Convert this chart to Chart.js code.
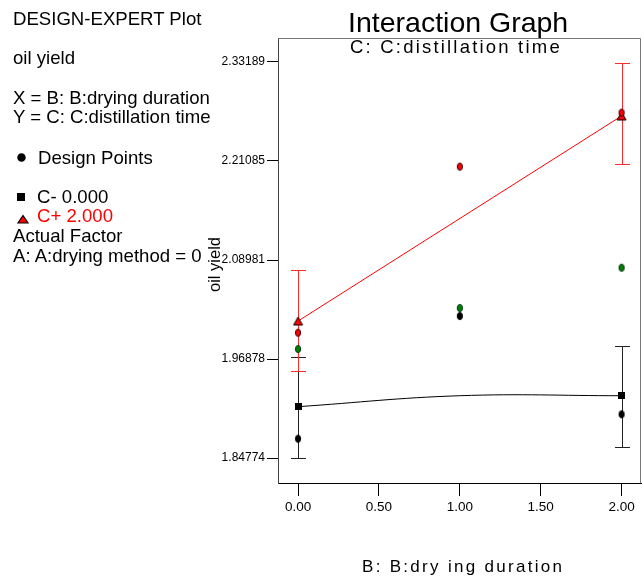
<!DOCTYPE html>
<html><head><meta charset="utf-8">
<script src="https://cdn.jsdelivr.net/npm/chart.js@4/dist/chart.umd.min.js"></script>
<style>
html,body{margin:0;padding:0;background:#fff;}
#wrap{position:relative;width:642px;height:579px;overflow:hidden;background:#fff;}
#c{position:absolute;left:0;top:0;}
.t{position:absolute;white-space:nowrap;font-family:"Liberation Sans",Arial,sans-serif;line-height:1;color:#000;}
</style></head><body>
<div id="wrap"><canvas id="c" width="642" height="579"></canvas></div>
<script>
// ---- data ----
const bLevels = [0, 1, 2];                       // B: drying duration
const designRed   = [2.0009, 2.2039, 2.2699];    // design points (red)
const designGreen = [1.9810, 2.0311, 2.0804];    // design points (green)
const designBlack = [1.8713, 2.0213, 1.9012];    // design points (black)
const fitCminus   = [1.9105, 1.9239, 1.9239];    // C- 0.000 fitted curve
const predEnds    = [0, 2];
const predCminus  = [1.9105, 1.9239];            // C- squares
const predCplus   = [2.0152, 2.2659];            // C+ triangles
const ciLowMinus  = [1.8480, 1.8616];
const ciHighMinus = [1.9716, 1.9850];
const ciLowPlus   = [1.9541, 2.2068];
const ciHighPlus  = [2.0776, 2.3303];
const xTickValues = [0, 0.5, 1, 1.5, 2];
const xTickLabels = ["0.00", "0.50", "1.00", "1.50", "2.00"];
const yTickValues = [1.84774, 1.96878, 2.08981, 2.21085, 2.33189];
const yTickLabels = ["1.84774", "1.96878", "2.08981", "2.21085", "2.33189"];

const FONT = '"Liberation Sans", Arial, sans-serif';

function ellipseImg(fill, stroke, rx, ry) {
  const c = document.createElement('canvas');
  c.width = Math.ceil(rx * 2 + 2); c.height = Math.ceil(ry * 2 + 2);
  const g = c.getContext('2d');
  g.beginPath(); g.ellipse(c.width / 2, c.height / 2, rx, ry, 0, 0, Math.PI * 2);
  g.fillStyle = fill; g.fill(); g.lineWidth = 1; g.strokeStyle = stroke; g.stroke();
  return c;
}
function squareImg(size) {
  const c = document.createElement('canvas'); c.width = size; c.height = size;
  const g = c.getContext('2d'); g.fillStyle = '#000'; g.fillRect(0, 0, size, size);
  return c;
}
function triImg(w, h) {
  const c = document.createElement('canvas'); c.width = w + 2; c.height = h + 2;
  const g = c.getContext('2d');
  g.beginPath(); g.moveTo(1 + w / 2, 1); g.lineTo(1 + w, 1 + h); g.lineTo(1, 1 + h); g.closePath();
  g.fillStyle = '#ff0000'; g.fill(); g.lineWidth = 1; g.strokeStyle = '#000'; g.stroke();
  return c;
}
const imgRed = ellipseImg('#ff0000', '#300', 2.6, 3.6);
const imgGreen = ellipseImg('#008000', '#031', 2.6, 3.6);
const imgBlack = ellipseImg('#000', '#000', 2.6, 3.6);
const imgSq = squareImg(7);
const imgTri = triImg(9, 8);

const pts = (xs, ys) => xs.map((x, i) => ({ x: x, y: ys[i] }));

const errorBars = {
  id: 'errorBars',
  beforeDatasetsDraw(chart) {
    const { ctx, scales: { x, y } } = chart;
    const draw = (lo, hi, color) => {
      ctx.save(); ctx.strokeStyle = color; ctx.lineWidth = 1;
      predEnds.forEach((b, i) => {
        const px = Math.round(x.getPixelForValue(b)) + 0.5;
        const y1 = Math.round(y.getPixelForValue(lo[i])) + 0.5;
        const y2 = Math.round(y.getPixelForValue(hi[i])) + 0.5;
        ctx.beginPath();
        ctx.moveTo(px, y1); ctx.lineTo(px, y2);
        ctx.moveTo(px - 7.5, y1); ctx.lineTo(px + 7.5, y1);
        ctx.moveTo(px - 7.5, y2); ctx.lineTo(px + 7.5, y2);
        ctx.stroke();
      });
      ctx.restore();
    };
    draw(ciLowMinus, ciHighMinus, '#222');
    draw(ciLowPlus, ciHighPlus, '#ff2a2a');
  },
  afterDraw(chart) {
    const { ctx, chartArea: a } = chart;
    ctx.save();
    ctx.strokeStyle = '#777'; ctx.lineWidth = 1;
    ctx.beginPath();
    ctx.moveTo(a.left, Math.round(a.top) + 0.5); ctx.lineTo(Math.round(a.right) - 0.5, Math.round(a.top) + 0.5);
    ctx.lineTo(Math.round(a.right) - 0.5, a.bottom);
    ctx.stroke();
    // legend symbols of the annotation block
    ctx.fillStyle = '#000';
    ctx.beginPath(); ctx.ellipse(21.5, 157.5, 4.2, 4.3, 0, 0, Math.PI * 2); ctx.fill();
    ctx.fillRect(17, 193, 8, 8);
    ctx.beginPath(); ctx.moveTo(23, 215.5); ctx.lineTo(28, 223); ctx.lineTo(18, 223); ctx.closePath();
    ctx.fillStyle = '#ff0000'; ctx.fill(); ctx.strokeStyle = '#000'; ctx.lineWidth = 1.2; ctx.stroke();
    ctx.restore();
  }
};

new Chart(document.getElementById('c'), {
  type: 'scatter',
  data: {
    datasets: [
      { label: 'design red', data: pts(bLevels, designRed), pointStyle: imgRed },
      { label: 'design green', data: pts(bLevels, designGreen), pointStyle: imgGreen },
      { label: 'design black', data: pts(bLevels, designBlack), pointStyle: imgBlack },
      { label: 'C+ 2.000', data: pts(predEnds, predCplus), pointStyle: imgTri },
      { label: 'C- 0.000', data: pts(predEnds, predCminus), pointStyle: imgSq },
      { label: 'C+ line', data: pts(predEnds, predCplus), showLine: true, borderColor: '#ff0000', borderWidth: 1, pointRadius: 0, tension: 0 },
      { label: 'C- line', data: pts(bLevels, fitCminus), showLine: true, borderColor: '#000', borderWidth: 1, pointRadius: 0, tension: 0.4 }
    ]
  },
  options: {
    responsive: false, animation: false, events: [],
    layout: { autoPadding: false, padding: { left: 0, right: 1, top: 38, bottom: 0 } },
    plugins: { legend: { display: false }, tooltip: { enabled: false }, title: { display: false } },
    scales: {
      x: {
        type: 'linear', min: -0.124, max: 2.12,
        afterBuildTicks: s => { s.ticks = xTickValues.map(v => ({ value: v })); },
        afterFit: s => { s.height = 96; s.paddingLeft = 0; s.paddingRight = 0; },
        ticks: { callback: (v, i) => xTickLabels[i], font: { family: FONT, size: 13.5 }, color: '#000', padding: 3, maxRotation: 0, autoSkip: false },
        grid: { drawOnChartArea: false, drawTicks: true, tickLength: 13, color: '#000', lineWidth: 1 },
        border: { display: true, color: '#000', width: 1 }
      },
      y: {
        type: 'linear', min: 1.8172, max: 2.3612,
        afterBuildTicks: s => { s.ticks = yTickValues.map(v => ({ value: v })); },
        afterFit: s => { s.width = 278; s.paddingTop = 0; s.paddingBottom = 0; },
        ticks: { callback: (v, i) => yTickLabels[i], font: { family: FONT, size: 12 }, color: '#000', padding: 2, autoSkip: false },
        grid: { drawOnChartArea: false, drawTicks: true, tickLength: 11, color: '#000', lineWidth: 1 },
        border: { display: true, color: '#444', width: 1 }
      }
    }
  },
  plugins: [errorBars]
});

// ---- annotation text (real HTML text) ----
(function () {
  const wrap = document.getElementById('wrap');
  function addText(txt, x, baseline, fs, color, ls) {
    const d = document.createElement('div');
    d.className = 't'; d.textContent = txt;
    d.style.fontSize = fs + 'px'; d.style.color = color || '#000';
    if (ls) d.style.letterSpacing = ls + 'px';
    d.style.left = x + 'px'; d.style.top = (baseline - 0.8465 * fs) + 'px';
    wrap.appendChild(d);
    return d;
  }
  const fs = 18.6;
  addText('DESIGN-EXPERT Plot', 13, 26, fs);
  addText('oil yield', 13, 65, fs);
  addText('X = B: B:drying duration', 13, 105, fs);
  addText('Y = C: C:distillation time', 13, 124, fs);
  addText('Design Points', 38, 165, fs);
  addText('C- 0.000', 37, 204, fs);
  addText('C+ 2.000', 37, 223, fs, '#ff0000');
  addText('Actual Factor', 13, 243, fs);
  addText('A: A:drying method = 0', 13, 263, fs);
  addText('Interaction Graph', 348, 32, 28.5);
  addText('C: C:distillation time', 350, 54, 18.5, '#000', 2.2);
  addText('B: B:dry ing duration', 362, 572.5, 17, '#000', 2.3);
  // rotated y-axis title
  const yfs = 16.5;
  const d = document.createElement('div');
  d.className = 't'; d.textContent = 'oil yield';
  d.style.fontSize = yfs + 'px';
  d.style.left = (220 - 0.8465 * yfs) + 'px';
  d.style.top = '292px';
  d.style.transformOrigin = '0 0';
  d.style.transform = 'rotate(-90deg)';
  wrap.appendChild(d);
})();
</script>
</body></html>
